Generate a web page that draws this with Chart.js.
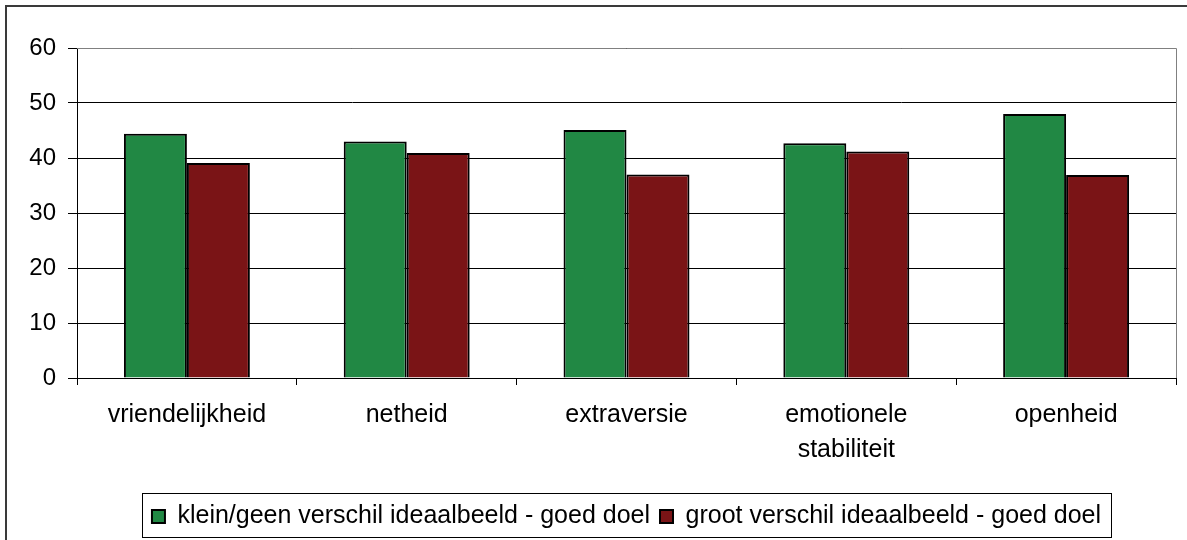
<!DOCTYPE html>
<html>
<head>
<meta charset="utf-8">
<script src="https://cdn.jsdelivr.net/npm/chart.js@4"></script>
<style>
html, body { margin: 0; padding: 0; background: #fff; }
#wrap { position: relative; width: 1187px; height: 540px; }
</style>
</head>
<body>
<div id="wrap"><canvas id="myChart" width="1187" height="540"></canvas></div>
<script>
// chart data
var categories = ["vriendelijkheid", "netheid", "extraversie", ["emotionele", "stabiliteit"], "openheid"];
var seriesNames = ["klein/geen verschil ideaalbeeld - goed doel", "groot verschil ideaalbeeld - goed doel"];
var smallDiff = [44.4, 43.0, 45.1, 42.7, 48.0];
var bigDiff = [39.1, 40.9, 37.0, 41.2, 36.9];
var yMin = 0;
var yMax = 60;
var yStep = 10;

var barColors = ["#218844", "#7a1416"];
var fontName = "'Liberation Sans', Arial, sans-serif";

// frame around the whole chart, plot area border and legend box
var framePlugin = {
  id: "frame",
  beforeDatasetsDraw: function (chart) {
    var ctx = chart.ctx;
    var a = chart.chartArea;
    ctx.save();
    ctx.strokeStyle = "#808080";
    ctx.lineWidth = 1;
    ctx.beginPath();
    ctx.moveTo(a.left, Math.round(a.top) + 0.5);
    ctx.lineTo(Math.round(a.right) + 0.5, Math.round(a.top) + 0.5);
    ctx.lineTo(Math.round(a.right) + 0.5, a.bottom);
    ctx.stroke();
    ctx.restore();
  },
  afterDraw: function (chart) {
    var ctx = chart.ctx;
    ctx.save();
    ctx.strokeStyle = "#3a3a3a";
    ctx.lineWidth = 2;
    ctx.beginPath();
    ctx.moveTo(6, 540);
    ctx.lineTo(6, 6);
    ctx.lineTo(1187, 6);
    ctx.stroke();

    var boxes = chart.legend.legendHitBoxes;
    if (boxes && boxes.length) {
      var l = Infinity, t = Infinity, r = -Infinity, b = -Infinity;
      boxes.forEach(function (h) {
        l = Math.min(l, h.left);
        t = Math.min(t, h.top);
        r = Math.max(r, h.left + h.width);
        b = Math.max(b, h.top + h.height);
      });
      ctx.strokeStyle = "#000";
      ctx.lineWidth = 1;
      ctx.strokeRect(Math.round(l - 10) + 0.5, Math.round(t - 11) + 0.5, Math.round(r - l + 20), Math.round(b - t + 19));
    }
    ctx.restore();
  }
};

new Chart("myChart", {
  type: "bar",
  data: {
    labels: categories,
    datasets: [{
      label: seriesNames[0],
      data: smallDiff,
      backgroundColor: barColors[0],
      borderColor: "#000",
      borderWidth: 2
    }, {
      label: seriesNames[1],
      data: bigDiff,
      backgroundColor: barColors[1],
      borderColor: "#000",
      borderWidth: 2
    }]
  },
  plugins: [framePlugin],
  options: {
    responsive: false,
    animation: false,
    categoryPercentage: 0.573,
    barPercentage: 1,
    layout: {
      padding: { left: 0, right: 11, top: 48, bottom: 1 }
    },
    plugins: {
      tooltip: { enabled: false },
      legend: {
        position: "bottom",
        fullSize: false,
        labels: {
          color: "#000",
          boxWidth: 13,
          boxHeight: 13,
          padding: 10,
          font: { family: fontName, size: 25 }
        }
      }
    },
    scales: {
      x: {
        grid: {
          offset: true,
          drawOnChartArea: false,
          drawTicks: true,
          tickLength: 7,
          color: "#000"
        },
        border: { color: "#000", width: 1 },
        ticks: {
          color: "#000",
          padding: 13,
          maxRotation: 0,
          font: { family: fontName, size: 25, lineHeight: 1.4 }
        },
        afterFit: function (scale) { scale.height = 116; }
      },
      y: {
        min: yMin,
        max: yMax,
        grid: { color: "#000", lineWidth: 1, tickLength: 9 },
        border: { color: "#000", width: 1 },
        ticks: {
          stepSize: yStep,
          color: "#000",
          padding: 12,
          font: { family: fontName, size: 24 }
        },
        afterFit: function (scale) { scale.width = 77; }
      }
    }
  }
});
</script>
</body>
</html>
